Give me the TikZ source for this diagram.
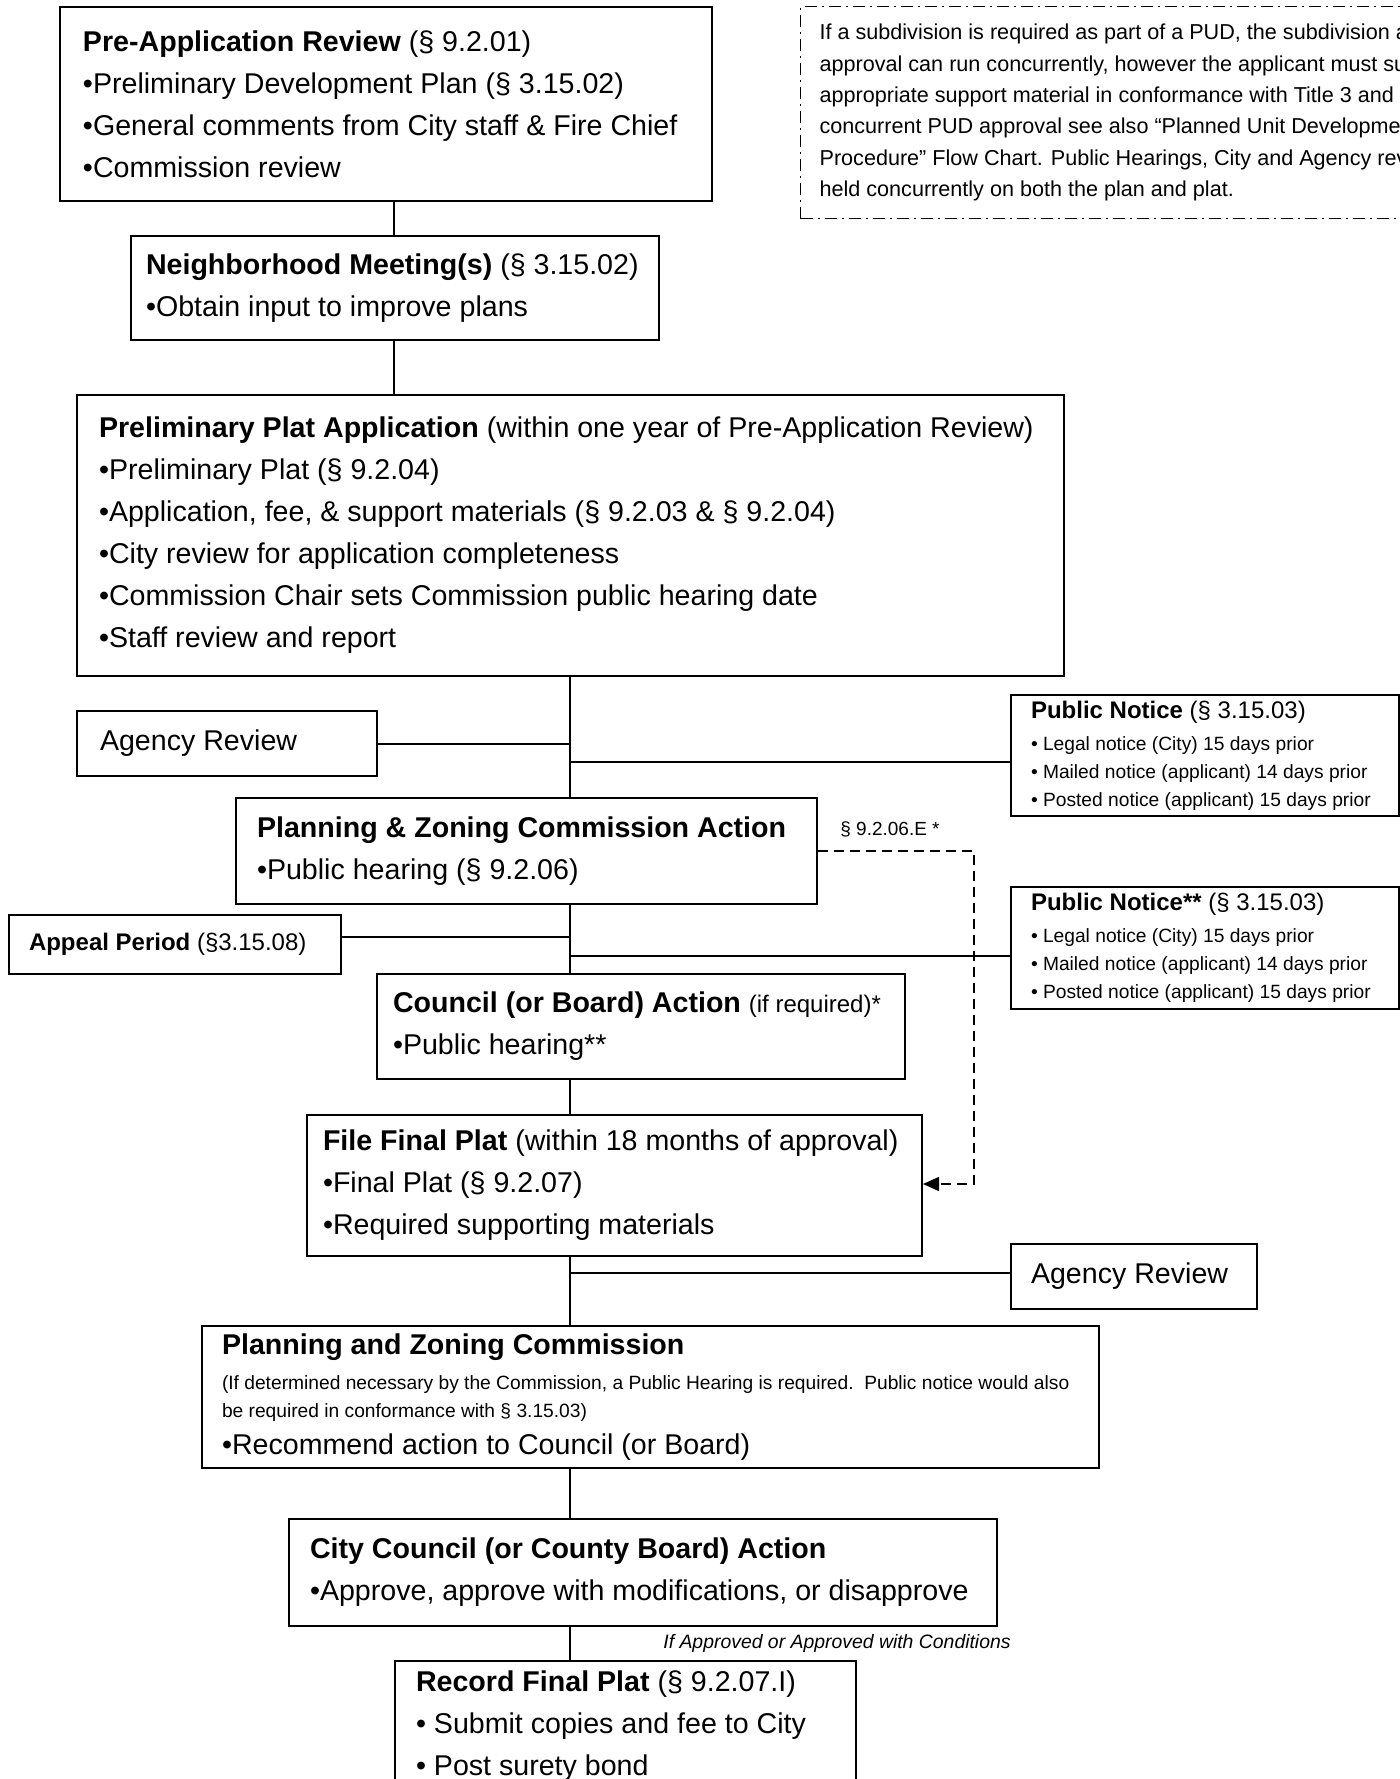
\documentclass[tikz,border=0pt]{standalone}
\usepackage{fontspec}
\setmainfont{Liberation Sans}
\usepackage{tikz}
\usetikzlibrary{arrows.meta}
\tikzset{
  flowbox/.style={draw, line width=1pt, anchor=north west, align=left,
    font=\fontsize{14.3}{21}\selectfont,
    execute at begin node={\spaceskip=0pt\xspaceskip=0pt}},
  noticebox/.style={flowbox, inner ysep=2pt},
  notebox/.style={draw, line width=0.6pt, dash pattern=on 6pt off 2.5pt on 1pt off 2.5pt,
    anchor=north west, align=left, font=\fontsize{10.8}{15.7}\selectfont,
    execute at begin node={\spaceskip=0pt\xspaceskip=0pt}},
  link/.style={line width=1pt},
  dashlink/.style={line width=0.8pt, dash pattern=on 5pt off 3pt,
    -{Triangle[length=8pt,width=7pt]}},
  tag/.style={inner sep=0pt, font=\fontsize{9.6}{12}\selectfont}
}
\begin{document}
\begin{tikzpicture}[x=0.5pt, y=-0.5pt]
\useasboundingbox (0,0) rectangle (1400,1779);
\clip (0,0) rectangle (1400,1779);
% Main column of steps
\node[flowbox, inner xsep=11.5pt, text width=303pt, minimum height=97pt] (preapp) at (59,6)
  {\textbf{Pre-Application Review} (§ 9.2.01)\\•Preliminary Development Plan (§ 3.15.02)\\
   •General comments from City staff \& Fire Chief\\•Commission review};
\node[flowbox, inner xsep=7.5pt, text width=249pt, minimum height=52pt] (neigh) at (130,235)
  {\textbf{Neighborhood Meeting(s)} (§ 3.15.02)\\•Obtain input to improve plans};
\node[flowbox, inner xsep=11pt, text width=471.5pt, minimum height=140.5pt] (prelim) at (76,394)
  {\textbf{Preliminary Plat Application} (within one year of Pre-Application Review)\\
   •Preliminary Plat (§ 9.2.04)\\•Application, fee, \& support materials (§ 9.2.03 \& § 9.2.04)\\
   •City review for application completeness\\•Commission Chair sets Commission public hearing date\\
   •Staff review and report};
\node[flowbox, inner xsep=10.5pt, text width=269.5pt, minimum height=53pt] (pzaction) at (235,797)
  {\textbf{Planning \& Zoning Commission Action}\\•Public hearing (§ 9.2.06)};
\node[flowbox, inner xsep=8pt, text width=248pt, minimum height=52.5pt] (council) at (376,973)
  {\textbf{Council (or Board) Action} {\fontsize{12}{21}\selectfont(if required)*}\\•Public hearing**};
\node[flowbox, inner xsep=8pt, text width=291.5pt, minimum height=70.5pt] (fileplat) at (306,1114)
  {\textbf{File Final Plat} (within 18 months of approval)\\•Final Plat (§ 9.2.07)\\
   •Required supporting materials};
\node[flowbox, inner xsep=10pt, text width=428.5pt, minimum height=71pt] (pzcomm) at (201,1325)
  {\textbf{Planning and Zoning Commission}\par
   \vspace{3.5pt}{\fontsize{9.6}{14}\selectfont (If determined necessary by the Commission, a Public Hearing is required.\ \ Public notice would also\\
   be required in conformance with § 3.15.03)\par}
   \vspace{-2.5pt}•Recommend action to Council (or Board)};
\node[flowbox, inner xsep=10.5pt, text width=333pt, minimum height=53.5pt] (citycouncil) at (288,1518)
  {\textbf{City Council (or County Board) Action}\\•Approve, approve with modifications, or disapprove};
\node[flowbox, inner xsep=10.5pt, inner ysep=5pt, text width=209.5pt] (record) at (394,1660)
  {\textbf{Record Final Plat} (§ 9.2.07.I)\\• Submit copies and fee to City\\• Post surety bond};
% Side boxes
\node[flowbox, inner xsep=11.5pt, text width=127pt, minimum height=32.5pt] (agencyA) at (76,710) {Agency Review};
\node[flowbox, inner xsep=10pt, text width=103pt, minimum height=32.5pt] (agencyB) at (1010,1243) {Agency Review};
\node[flowbox, font=\fontsize{12}{14}\selectfont, inner xsep=10pt, text width=146pt, minimum height=29.5pt] (appeal) at (8,914)
  {\textbf{Appeal Period} (§3.15.08)};
\node[noticebox, inner xsep=10pt, text width=174pt, minimum height=60.5pt] (noticeA) at (1010,694)
  {{\fontsize{12}{14}\selectfont\textbf{Public Notice} (§ 3.15.03)\par}
   \vspace{2pt}{\fontsize{9.6}{14}\selectfont • Legal notice (City) 15 days prior\\
   • Mailed notice (applicant) 14 days prior\\• Posted notice (applicant) 15 days prior\par}};
\node[noticebox, inner xsep=10pt, text width=174pt, minimum height=61pt] (noticeB) at (1010,886)
  {{\fontsize{12}{14}\selectfont\textbf{Public Notice**} (§ 3.15.03)\par}
   \vspace{2pt}{\fontsize{9.6}{14}\selectfont • Legal notice (City) 15 days prior\\
   • Mailed notice (applicant) 14 days prior\\• Posted notice (applicant) 15 days prior\par}};
\node[notebox, inner xsep=9.5pt, text width=400pt, minimum height=106pt] (pudnote) at (800,6)
  {If a subdivision is required as part of a PUD, the subdivision and\\
   approval can run concurrently, however the applicant must submit\\
   appropriate support material in conformance with Title 3 and\\
   concurrent PUD approval see also “Planned Unit Development\\
   Procedure” Flow Chart. Public Hearings, City and Agency review\\
   held concurrently on both the plan and plat.};
% Small labels
\node[tag, font=\fontsize{9.5}{12}\selectfont] (secE) at (890,829) {§ 9.2.06.E *};
\node[tag, font=\fontsize{9.7}{12}\selectfont\itshape] (ifok) at (837,1643) {If Approved or Approved with Conditions};
% Spine and branch points
\coordinate (spineA) at (394,0);
\coordinate (spineB) at (570,0);
\coordinate (brA) at (570,762);
\coordinate (brB) at (570,937);
\coordinate (brC) at (570,956);
\coordinate (brD) at (570,1273);
\coordinate (dA) at (974,851);
\coordinate (dB) at (974,1184);
% Draw connections
\draw[link] (preapp.south -| spineA) -- (neigh.north -| spineA);
\draw[link] (neigh.south -| spineA) -- (prelim.north -| spineA);
\foreach \from/\to in {prelim/pzaction, pzaction/council, council/fileplat, fileplat/pzcomm, pzcomm/citycouncil, citycouncil/record} {
  \draw[link] (\from.south -| spineB) -- (\to.north -| spineB);
}
\draw[link] (agencyA.east) -- (agencyA.east -| spineB);
\draw[link] (brA) -- (brA -| noticeA.west);
\draw[link] (brB) -- (brB -| appeal.east);
\draw[link] (brC) -- (brC -| noticeB.west);
\draw[link] (brD) -- (brD -| agencyB.west);
\draw[dashlink] (pzaction.east |- dA) -- (dA) -- (dB) -- (fileplat.east |- dB);
\end{tikzpicture}
\end{document}
